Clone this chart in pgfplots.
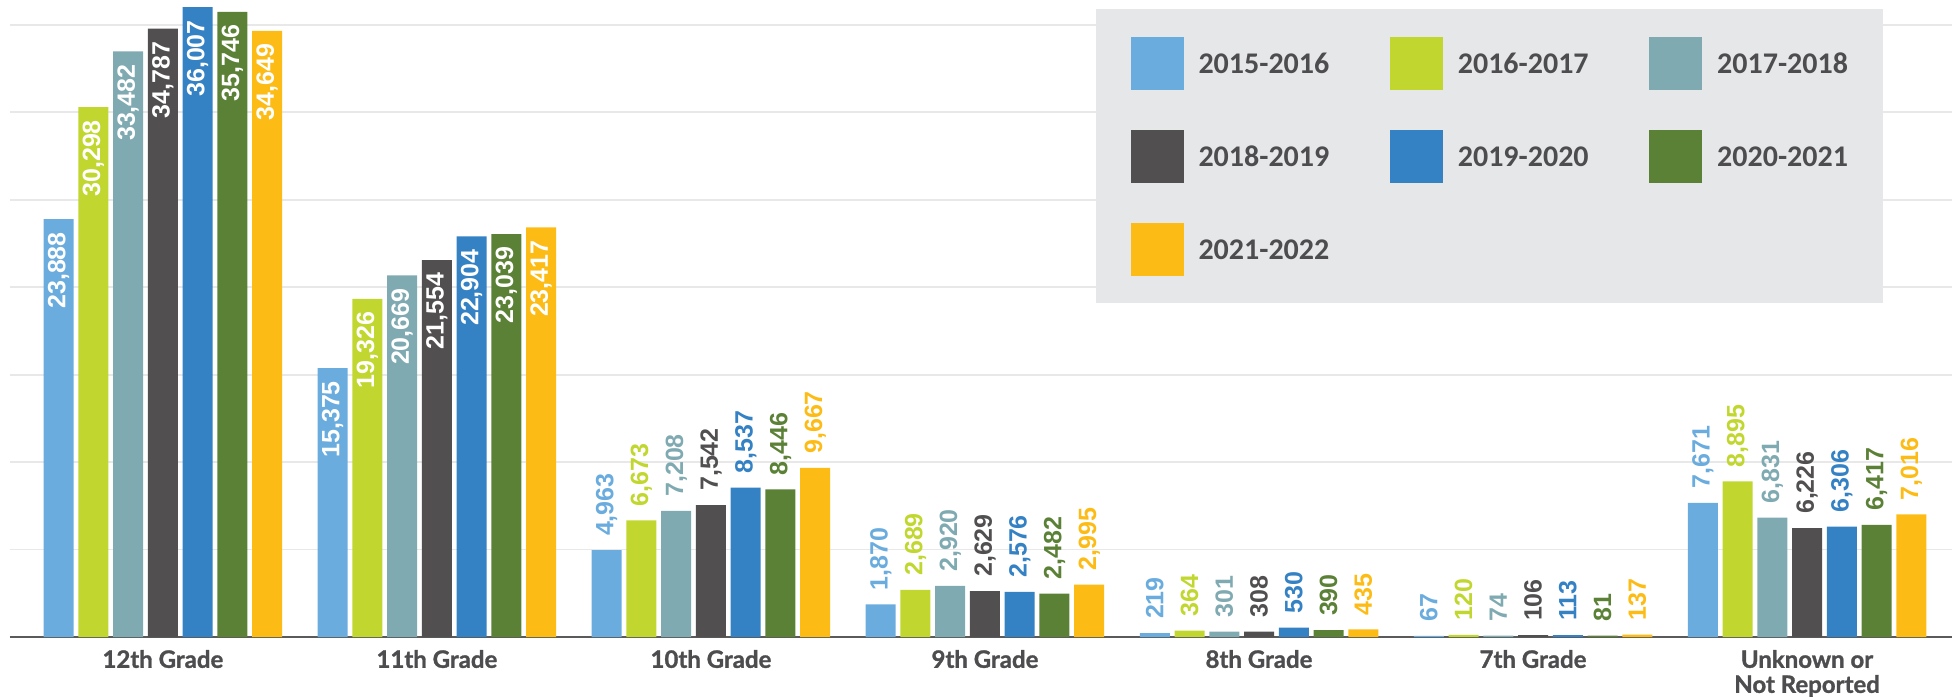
\documentclass[border=0pt]{standalone}
\usepackage{pgfplots}
\pgfplotsset{compat=1.18}
\usepackage{pgfplotstable}
\usepackage{fontspec}
\setmainfont{Liberation Sans}
\newfontfamily\numfont{Liberation Sans}
\newfontfamily\catfont{Lato}[BoldFeatures={FakeBold=1.2}]
\newfontfamily\legfont{Carlito}
\definecolor{c1}{HTML}{6AACDE}
\definecolor{c2}{HTML}{C1D72F}
\definecolor{c3}{HTML}{80AAB1}
\definecolor{c4}{HTML}{514F50}
\definecolor{c5}{HTML}{3481C4}
\definecolor{c6}{HTML}{5B8137}
\definecolor{c7}{HTML}{FDBB16}
\definecolor{gridc}{HTML}{E8E8E8}
\definecolor{axisc}{HTML}{5A5A5A}
\definecolor{legbg}{HTML}{E6E7E8}
\definecolor{txt}{HTML}{4D4D4F}
\pgfplotstableread{
cat s1 s2 s3 s4 s5 s6 s7
0 23888 30298 33482 34787 36007 35746 34649
1 15375 19326 20669 21554 22904 23039 23417
2 4963 6673 7208 7542 8537 8446 9667
3 1870 2689 2920 2629 2576 2482 2995
4 219 364 301 308 530 390 435
5 67 120 74 106 113 81 137
6 7671 8895 6831 6226 6306 6417 7016
}\datatable
\pgfplotsset{
  inlab/.style={restrict x to domain=0:1, nodes near coords,
    nodes near coords style={text=white, inner sep=0pt, font=\numfont\bfseries\fontsize{10}{12}\selectfont, yshift=-5pt, rotate=90, anchor=east}},
  outlab/.style={restrict x to domain=2:6, forget plot, nodes near coords,
    nodes near coords style={text=#1, inner sep=0pt, font=\numfont\bfseries\fontsize{10}{12}\selectfont, yshift=5.5pt, rotate=90, anchor=west}},
}
\begin{document}
\begin{tikzpicture}
\begin{axis}[
  name=ax,
  scale only axis, width=776.8pt, height=254.8pt,
  xmin=-0.558, xmax=6.529, ymin=0, ymax=36421,
  ybar, bar width=12pt,
  axis line style={draw=none},
  ymajorgrids, grid style={gridc, line width=0.7pt},
  ytick={5000,10000,...,35000}, yticklabels={},
  extra y ticks={0}, extra y tick labels={},
  extra y tick style={grid style={color=axisc, line width=1pt}},
  xtick={0,...,6},
  xticklabels={12th Grade,11th Grade,10th Grade,9th Grade,8th Grade,7th Grade,{Unknown or\\Not Reported}},
  xticklabel style={font=\catfont\bfseries\fontsize{9.6}{10}\selectfont, text=txt, align=center, inner sep=0pt, yshift=-5pt},
  major tick length=0pt, tick style={draw=none},
  /pgf/number format/fixed, /pgf/number format/precision=0,
  /pgf/number format/1000 sep={,}, /pgf/number format/assume math mode=true,
  legend columns=3,
  legend cell align=left,
  legend image code/.code={\fill[#1] (0pt,-10.6pt) rectangle (21.2pt,10.6pt);},
  legend style={at={(axis description cs:0.5587,0.9859)}, anchor=north west,
    fill=legbg, draw=none, inner xsep=14pt, inner ysep=11pt,
    font=\legfont\bfseries\fontsize{12}{12}\selectfont, text=txt,
    nodes={inner sep=0pt, text depth=0pt},
    column sep=6pt, row sep=16pt,
    /tikz/every even column/.append style={column sep=24.2pt}},
]
\addplot[fill=c1, draw=none, bar shift=-41.7pt, inlab] table[x=cat,y=s1]{\datatable};
\addlegendentry{2015-2016}
\addplot[fill=c1, draw=none, bar shift=-41.7pt, outlab=c1] table[x=cat,y=s1]{\datatable};
\addplot[fill=c2, draw=none, bar shift=-27.8pt, inlab] table[x=cat,y=s2]{\datatable};
\addlegendentry{2016-2017}
\addplot[fill=c2, draw=none, bar shift=-27.8pt, outlab=c2] table[x=cat,y=s2]{\datatable};
\addplot[fill=c3, draw=none, bar shift=-13.9pt, inlab] table[x=cat,y=s3]{\datatable};
\addlegendentry{2017-2018}
\addplot[fill=c3, draw=none, bar shift=-13.9pt, outlab=c3] table[x=cat,y=s3]{\datatable};
\addplot[fill=c4, draw=none, bar shift=0pt, inlab] table[x=cat,y=s4]{\datatable};
\addlegendentry{2018-2019}
\addplot[fill=c4, draw=none, bar shift=0pt, outlab=c4] table[x=cat,y=s4]{\datatable};
\addplot[fill=c5, draw=none, bar shift=13.9pt, inlab] table[x=cat,y=s5]{\datatable};
\addlegendentry{2019-2020}
\addplot[fill=c5, draw=none, bar shift=13.9pt, outlab=c5] table[x=cat,y=s5]{\datatable};
\addplot[fill=c6, draw=none, bar shift=27.8pt, inlab] table[x=cat,y=s6]{\datatable};
\addlegendentry{2020-2021}
\addplot[fill=c6, draw=none, bar shift=27.8pt, outlab=c6] table[x=cat,y=s6]{\datatable};
\addplot[fill=c7, draw=none, bar shift=41.7pt, inlab] table[x=cat,y=s7]{\datatable};
\addlegendentry{2021-2022}
\addplot[fill=c7, draw=none, bar shift=41.7pt, outlab=c7] table[x=cat,y=s7]{\datatable};
\end{axis}
\pgfresetboundingbox
\path ([xshift=-4pt,yshift=-23.6pt]ax.south west) rectangle (ax.north east);
\end{tikzpicture}
\end{document}
